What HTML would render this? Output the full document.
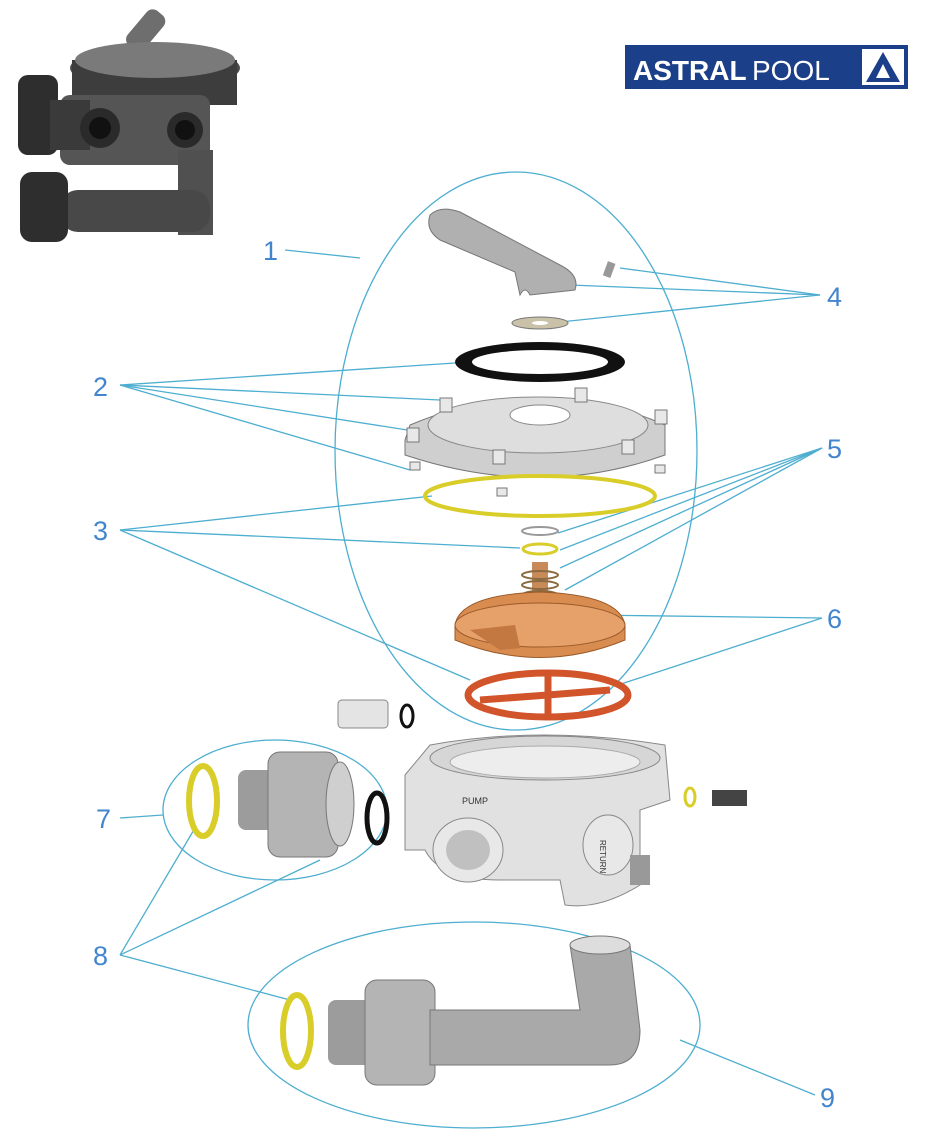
<!DOCTYPE html>
<html><head><meta charset="utf-8"><style>
html,body{margin:0;padding:0;background:#fff;}
svg{display:block;}
text{font-family:"Liberation Sans",sans-serif;}
</style></head><body>
<svg width="946" height="1148" viewBox="0 0 946 1148" xmlns="http://www.w3.org/2000/svg">
<rect width="946" height="1148" fill="#fff"/>
<!-- top-left photo -->
<g>
<rect x="135" y="8" width="22" height="45" rx="8" fill="#6e6e6e" transform="rotate(40 146 30)"/>
<ellipse cx="155" cy="68" rx="85" ry="22" fill="#4a4a4a"/>
<rect x="72" y="60" width="165" height="45" fill="#3d3d3d"/>
<ellipse cx="155" cy="60" rx="80" ry="18" fill="#7a7a7a"/>
<rect x="60" y="95" width="150" height="70" rx="10" fill="#555"/>
<rect x="18" y="75" width="40" height="80" rx="10" fill="#2e2e2e"/>
<rect x="50" y="100" width="40" height="50" fill="#3a3a3a"/>
<circle cx="100" cy="128" r="20" fill="#2a2a2a"/><circle cx="100" cy="128" r="11" fill="#111"/>
<circle cx="185" cy="130" r="18" fill="#2a2a2a"/><circle cx="185" cy="130" r="10" fill="#111"/>
<rect x="178" y="150" width="35" height="85" fill="#505050"/>
<rect x="60" y="190" width="150" height="42" rx="18" fill="#484848"/>
<rect x="20" y="172" width="48" height="70" rx="12" fill="#2e2e2e"/>
</g>
<!-- logo -->
<rect x="625" y="45" width="283" height="44" fill="#1c3f8a"/>
<text x="633" y="80" font-size="28" font-weight="bold" fill="#fff">ASTRAL</text>
<text x="752" y="80" font-size="28" fill="#fff">POOL</text>
<rect x="862" y="49" width="42" height="36" fill="#fff"/>
<polygon points="883,52 866,82 900,82" fill="#1c3f8a"/>
<polygon points="883,64 876,78 890,78" fill="#fff"/>
<!-- ellipses -->
<g fill="none" stroke="#4eaed0" stroke-width="1.3">
<ellipse cx="516" cy="451" rx="181" ry="279"/>
<ellipse cx="275" cy="810" rx="112" ry="70"/>
<ellipse cx="474" cy="1025" rx="226" ry="103"/>
<line x1="285" y1="250" x2="360" y2="258"/>
<line x1="820" y1="295" x2="620" y2="268"/>
<line x1="820" y1="295" x2="570" y2="285"/>
<line x1="820" y1="295" x2="560" y2="322"/>
<line x1="120" y1="385" x2="455" y2="363"/>
<line x1="120" y1="385" x2="440" y2="400"/>
<line x1="120" y1="385" x2="420" y2="432"/>
<line x1="120" y1="385" x2="410" y2="470"/>
<line x1="120" y1="530" x2="432" y2="496"/>
<line x1="120" y1="530" x2="520" y2="548"/>
<line x1="120" y1="530" x2="470" y2="680"/>
<line x1="822" y1="448" x2="558" y2="533"/>
<line x1="822" y1="448" x2="560" y2="550"/>
<line x1="822" y1="448" x2="560" y2="568"/>
<line x1="822" y1="448" x2="565" y2="590"/>
<line x1="822" y1="618" x2="590" y2="615"/>
<line x1="822" y1="618" x2="615" y2="686"/>
<line x1="120" y1="818" x2="163" y2="815"/>
<line x1="120" y1="955" x2="195" y2="828"/>
<line x1="120" y1="955" x2="320" y2="860"/>
<line x1="120" y1="955" x2="290" y2="1000"/>
<line x1="815" y1="1095" x2="680" y2="1040"/>
</g>
<g font-size="27" fill="#4285cc">
<text x="263" y="260">1</text>
<text x="93" y="396">2</text>
<text x="93" y="540">3</text>
<text x="827" y="306">4</text>
<text x="827" y="458">5</text>
<text x="827" y="628">6</text>
<text x="96" y="828">7</text>
<text x="93" y="965">8</text>
<text x="820" y="1107">9</text>
</g>
<!-- handle -->
<path d="M430,215 Q440,205 460,212 L560,265 Q580,275 575,290 L530,295 Q525,285 520,295 L515,272 L440,240 Q425,230 430,215Z" fill="#b0b0b0" stroke="#777"/>
<rect x="605" y="262" width="8" height="15" fill="#999" transform="rotate(20 609 270)"/>
<ellipse cx="540" cy="323" rx="28" ry="6" fill="#c9c2a8" stroke="#777"/>
<ellipse cx="540" cy="323" rx="8" ry="2" fill="#fff"/>
<ellipse cx="540" cy="362" rx="85" ry="20" fill="#111"/>
<ellipse cx="540" cy="362" rx="68" ry="12" fill="#fff"/>
<!-- cover -->
<path d="M405,440 L410,425 Q540,370 665,425 L665,455 Q540,500 405,455Z" fill="#cfcfcf" stroke="#777"/>
<ellipse cx="538" cy="425" rx="110" ry="28" fill="#dedede" stroke="#888"/>
<ellipse cx="540" cy="415" rx="30" ry="10" fill="#fff" stroke="#888"/>
<g fill="#e8e8e8" stroke="#777">
<rect x="440" y="398" width="12" height="14"/><rect x="575" y="388" width="12" height="14"/>
<rect x="655" y="410" width="12" height="14"/><rect x="622" y="440" width="12" height="14"/>
<rect x="493" y="450" width="12" height="14"/><rect x="407" y="428" width="12" height="14"/>
<rect x="410" y="462" width="10" height="8"/><rect x="497" y="488" width="10" height="8"/><rect x="655" y="465" width="10" height="8"/>
</g>
<ellipse cx="540" cy="496" rx="115" ry="20" fill="none" stroke="#d9cd2a" stroke-width="4"/>
<ellipse cx="540" cy="531" rx="18" ry="4" fill="none" stroke="#999" stroke-width="2"/>
<ellipse cx="540" cy="549" rx="17" ry="5" fill="none" stroke="#d9cd2a" stroke-width="3"/>
<rect x="532" y="562" width="16" height="60" fill="#c98a5a"/>
<g fill="none" stroke="#8a6a40" stroke-width="2">
<ellipse cx="540" cy="575" rx="18" ry="4"/><ellipse cx="540" cy="585" rx="18" ry="4"/>
<ellipse cx="540" cy="595" rx="18" ry="4"/><ellipse cx="540" cy="605" rx="18" ry="4"/>
</g>
<path d="M455,625 Q460,595 540,592 Q620,595 625,625 L625,640 Q540,675 455,640Z" fill="#d98c50" stroke="#9a5a2a"/>
<ellipse cx="540" cy="625" rx="85" ry="22" fill="#e6a06a" stroke="#9a5a2a"/>
<path d="M470,630 L500,650 L520,648 L515,625Z" fill="#c27840"/>
<ellipse cx="548" cy="695" rx="80" ry="22" fill="none" stroke="#d2542a" stroke-width="7"/>
<g stroke="#d2542a" stroke-width="7"><line x1="548" y1="695" x2="548" y2="675"/><line x1="548" y1="695" x2="480" y2="700"/><line x1="548" y1="695" x2="610" y2="690"/><line x1="548" y1="695" x2="548" y2="716"/></g>
<rect x="338" y="700" width="50" height="28" rx="4" fill="#e4e4e4" stroke="#888"/>
<ellipse cx="407" cy="716" rx="6" ry="11" fill="none" stroke="#111" stroke-width="3"/>
<!-- body -->
<path d="M405,775 L430,745 Q540,725 665,745 L670,800 L640,810 L640,885 Q600,910 565,905 L560,880 L500,880 Q440,880 425,850 L405,850Z" fill="#e1e1e1" stroke="#888"/>
<ellipse cx="545" cy="758" rx="115" ry="22" fill="#d6d6d6" stroke="#888"/>
<ellipse cx="545" cy="762" rx="95" ry="16" fill="#ededed" stroke="#aaa"/>
<ellipse cx="468" cy="850" rx="35" ry="32" fill="#e8e8e8" stroke="#888"/>
<ellipse cx="468" cy="850" rx="22" ry="20" fill="#c0c0c0"/>
<ellipse cx="608" cy="845" rx="25" ry="30" fill="#e8e8e8" stroke="#888"/>
<text x="462" y="804" font-size="9" fill="#333">PUMP</text>
<text x="600" y="840" font-size="8" fill="#333" transform="rotate(90 600 840)">RETURN</text>
<rect x="630" y="855" width="20" height="30" fill="#999"/>
<ellipse cx="690" cy="797" rx="5" ry="9" fill="none" stroke="#d9cd2a" stroke-width="3"/>
<rect x="712" y="790" width="35" height="16" fill="#444"/>
<!-- union group 7 -->
<ellipse cx="203" cy="801" rx="14" ry="35" fill="none" stroke="#d9cd2a" stroke-width="6"/>
<rect x="238" y="770" width="40" height="60" rx="8" fill="#9c9c9c"/>
<rect x="268" y="752" width="70" height="105" rx="12" fill="#b4b4b4" stroke="#777"/>
<ellipse cx="340" cy="804" rx="14" ry="42" fill="#cfcfcf" stroke="#777"/>
<ellipse cx="377" cy="818" rx="10" ry="25" fill="none" stroke="#111" stroke-width="5"/>
<!-- pipe group 9 -->
<ellipse cx="297" cy="1031" rx="14" ry="36" fill="none" stroke="#d9cd2a" stroke-width="6"/>
<rect x="328" y="1000" width="45" height="65" rx="8" fill="#9c9c9c"/>
<rect x="365" y="980" width="70" height="105" rx="12" fill="#b4b4b4" stroke="#777"/>
<path d="M430,1010 L580,1010 L570,945 L630,945 L640,1030 Q640,1065 610,1065 L430,1065Z" fill="#a9a9a9" stroke="#777"/>
<ellipse cx="600" cy="945" rx="30" ry="9" fill="#ddd" stroke="#777"/>
</svg>
</body></html>
